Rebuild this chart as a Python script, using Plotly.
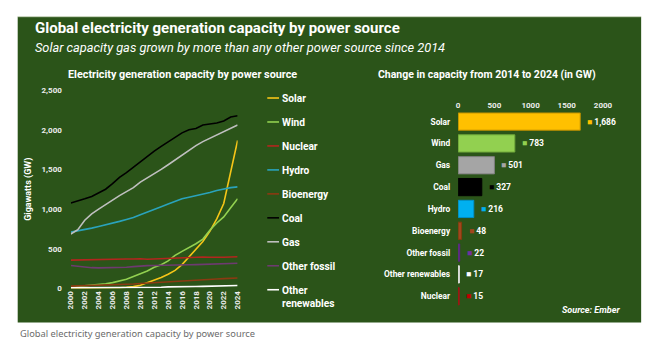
import plotly.graph_objects as go

W, H = 658, 349

# ---- data -------------------------------------------------------------
years = list(range(2000, 2025))
tick_years = list(range(2000, 2025, 2))

series_names = ["Solar", "Wind", "Nuclear", "Hydro", "Bioenergy",
                "Coal", "Gas", "Other fossil", "Other renewables"]

solar = [1, 1, 2, 3, 4, 5, 7, 9, 15, 23, 41, 72, 101, 138, 179,
         228, 300, 394, 489, 591, 720, 876, 1070, 1480, 1865]
wind = [17, 24, 31, 39, 48, 59, 74, 94, 115, 151, 181, 220, 267, 300, 347,
        417, 467, 515, 564, 622, 733, 825, 901, 1017, 1130]
nuclear = [357, 360, 362, 365, 367, 368, 370, 372, 372, 371, 375, 369, 373,
           374, 385, 383, 390, 393, 396, 396, 393, 390, 394, 396, 400]
hydro = [710, 725, 740, 760, 780, 800, 820, 845, 870, 895, 930, 960, 990,
         1030, 1064, 1100, 1130, 1150, 1170, 1185, 1210, 1235, 1255, 1270, 1280]
bioenergy = [30, 32, 34, 36, 38, 40, 43, 47, 51, 56, 62, 68, 74, 80, 83,
             92, 97, 102, 107, 112, 116, 120, 124, 128, 131]
coal = [1078, 1100, 1130, 1160, 1200, 1250, 1320, 1400, 1460, 1530, 1600,
        1670, 1730, 1790, 1848, 1900, 1960, 2000, 2015, 2060, 2070, 2085,
        2110, 2160, 2175]
gas = [686, 740, 860, 940, 1000, 1060, 1110, 1170, 1220, 1270, 1340, 1390,
       1440, 1500, 1559, 1620, 1680, 1740, 1800, 1850, 1890, 1930, 1970,
       2010, 2060]
other_fossil = [290, 280, 268, 262, 260, 260, 262, 265, 268, 275, 285, 288,
                290, 290, 296, 293, 295, 298, 300, 303, 305, 308, 312, 315, 318]
other_renewables = [8, 8, 9, 9, 9, 10, 10, 10, 11, 11, 12, 13, 14, 16, 20,
                    19, 21, 23, 25, 26, 28, 30, 32, 35, 37]

series_values = [solar, wind, nuclear, hydro, bioenergy,
                 coal, gas, other_fossil, other_renewables]
line_colors = ["#F5C518", "#92D050", "#B3261E", "#2AA3BC", "#8B3A12",
               "#000000", "#BFBFBF", "#6E3A70", "#FFFFFF"]

change_names = ["Solar", "Wind", "Gas", "Coal", "Hydro", "Bioenergy",
                "Other fossil", "Other renewables", "Nuclear"]
change_values = [1686, 783, 501, 327, 216, 48, 22, 17, 15]
change_colors = ["#FFC000", "#92D050", "#A5A5A5", "#000000", "#00B0F0",
                 "#A0461E", "#7030A0", "#FFFFFF", "#C00000"]
change_edges = ["#BF9000", "#6FA83A", "#7F7F7F", "#000000", "#0090C8",
                "#843C0C", "#5A2680", "#E0E0E0", "#9A1A1A"]

# ---- styling ----------------------------------------------------------
GREEN = "#2B5419"
FONT = "Roboto, sans-serif"


def px(x):
    return x / W


def py(y):
    return 1 - y / H


fig = go.Figure()

for name, vals, col in zip(series_names, series_values, line_colors):
    fig.add_trace(go.Scatter(
        x=years, y=vals, mode="lines", name=name,
        line=dict(color=col, width=1.6), showlegend=False,
        cliponaxis=False, xaxis="x", yaxis="y"))

fig.add_trace(go.Bar(
    x=change_values, y=change_names, orientation="h",
    marker=dict(color=change_colors, line=dict(color=change_edges, width=1)),
    showlegend=False, xaxis="x2", yaxis="y2"))

annotations = []
shapes = []

# value labels with a small colour key next to each bar
for name, val, col in zip(change_names, change_values, change_colors):
    annotations.append(dict(
        x=val, y=name, xref="x2", yref="y2", xanchor="left", yanchor="middle",
        xshift=5, showarrow=False,
        text=f"<span style='color:{col}'>■</span> {val:,}",
        font=dict(family=FONT, size=8.5, color="#FFFFFF", weight="bold")))

# hand-built legend for the line chart
for i, (name, col) in enumerate(zip(series_names, line_colors)):
    yc = 96.5 + i * 24.6
    shapes.append(dict(type="line", xref="paper", yref="paper",
                       x0=px(269), x1=px(281), y0=py(yc), y1=py(yc),
                       line=dict(color=col, width=1.6)))
    label = "Other<br>renewables" if name == "Other renewables" else name
    annotations.append(dict(
        x=px(282), y=py(yc - 7), xref="paper", yref="paper",
        xanchor="left", yanchor="top", align="left", showarrow=False,
        text=label,
        font=dict(family=FONT, size=10.2, color="#FFFFFF", weight="bold")))

# panel background
shapes.insert(0, dict(type="rect", xref="paper", yref="paper", layer="below",
                      x0=px(14), x1=px(651), y0=py(327), y1=py(13),
                      fillcolor=GREEN, line=dict(width=0)))
shapes.append(dict(type="line", xref="paper", yref="paper",
                   x0=px(14), x1=px(651), y0=py(13), y1=py(13),
                   line=dict(color="#C9D6BE", width=1)))

annotations += [
    dict(x=px(30), y=py(24.5), xref="paper", yref="paper", xanchor="left",
         yanchor="middle", showarrow=False,
         text="Global electricity generation capacity by power source",
         font=dict(family=FONT, size=15, color="#FFFFFF", weight="bold")),
    dict(x=px(30), y=py(45), xref="paper", yref="paper", xanchor="left",
         yanchor="middle", showarrow=False,
         text="<i>Solar capacity gas grown by more than any other power source since 2014</i>",
         font=dict(family=FONT, size=12.8, color="#FFFFFF")),
    dict(x=px(182), y=py(72.5), xref="paper", yref="paper", xanchor="center",
         yanchor="middle", showarrow=False,
         text="Electricity generation capacity by power source",
         font=dict(family=FONT, size=10.8, color="#FFFFFF", weight="bold")),
    dict(x=px(494), y=py(72.5), xref="paper", yref="paper", xanchor="center",
         yanchor="middle", showarrow=False,
         text="Change in capacity from 2014 to 2024 (in GW)",
         font=dict(family=FONT, size=10.5, color="#FFFFFF", weight="bold")),
    dict(x=px(631), y=py(314), xref="paper", yref="paper", xanchor="right",
         yanchor="middle", showarrow=False,
         text="<i>Source: Ember</i>",
         font=dict(family=FONT, size=9, color="#FFFFFF", weight="bold")),
    dict(x=px(14), y=py(338), xref="paper", yref="paper", xanchor="left",
         yanchor="middle", showarrow=False,
         text="Global electricity generation capacity by power source",
         font=dict(family="Noto Sans, sans-serif", size=9.3, color="#6B6B6B")),
]

tick_font = dict(family=FONT, size=8, color="#EDEDED", weight="bold")

fig.update_layout(
    width=W, height=H,
    margin=dict(l=0, r=0, t=0, b=0),
    paper_bgcolor="#FFFFFF", plot_bgcolor="rgba(0,0,0,0)",
    shapes=shapes, annotations=annotations,
    bargap=0.21,
    xaxis=dict(domain=[px(68.3), px(238.7)], range=[2000, 2024],
               tickmode="array", tickvals=tick_years,
               ticktext=[str(y) for y in tick_years], tickangle=-90,
               tickfont=tick_font, showgrid=False, zeroline=False,
               showline=False, ticks=""),
    yaxis=dict(domain=[py(292), py(88.3)], range=[0, 2500], dtick=500,
               tickformat=",d", tickfont=tick_font, showgrid=False,
               zeroline=False, showline=False, ticks="", ticklabelstandoff=8,
               title=dict(text="Gigawatts (GW)", standoff=8,
                          font=dict(family=FONT, size=9, color="#FFFFFF",
                                    weight="bold"))),
    xaxis2=dict(domain=[px(464), px(612)], range=[0, 2000], dtick=500,
                side="top", anchor="y2", tickformat="d",
                tickfont=tick_font, showgrid=False, zeroline=False,
                showline=False, ticks=""),
    yaxis2=dict(domain=[py(311.2), py(109.5)], anchor="x2",
                autorange="reversed", tickfont=dict(family=FONT, size=8.4,
                color="#FFFFFF", weight="bold"),
                showgrid=False, zeroline=False, showline=False, ticks="",
                ticklabelstandoff=7),
)

fig.write_html("out.html")
